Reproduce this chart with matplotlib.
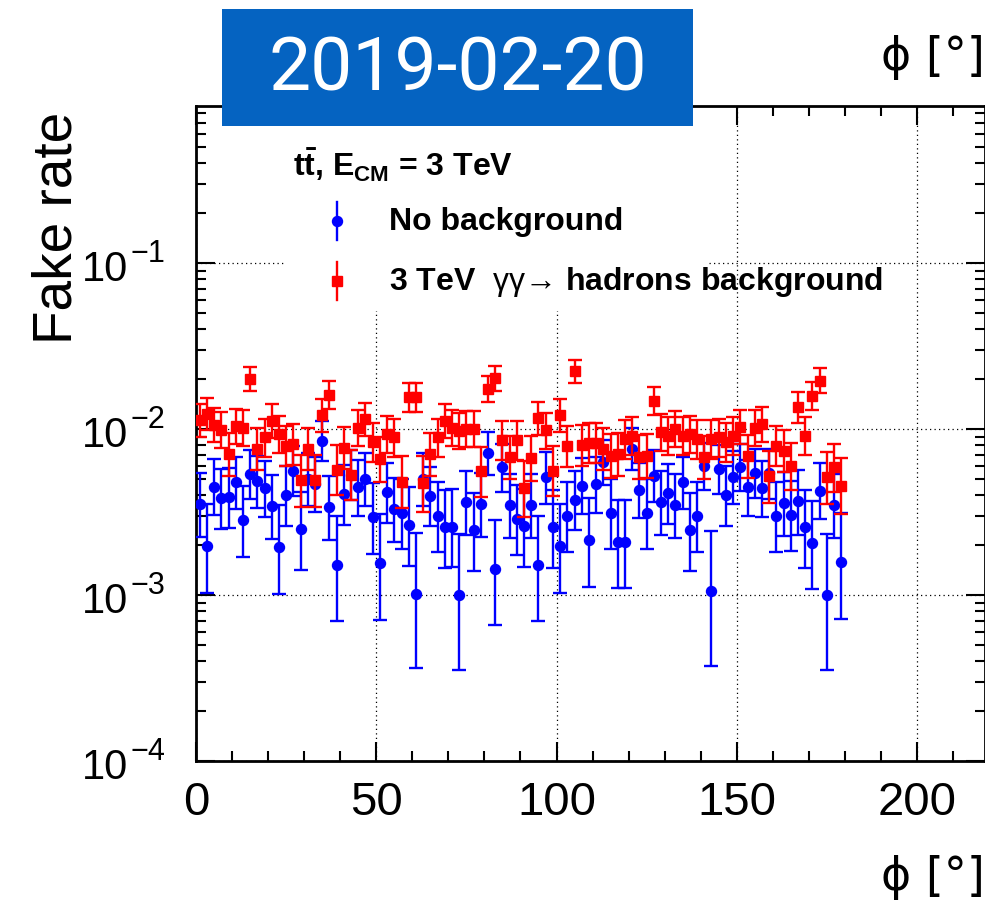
import math
import numpy as np
import matplotlib
matplotlib.use("Agg")
import matplotlib.pyplot as plt
import matplotlib.transforms as mtransforms
from matplotlib.patches import Rectangle
from matplotlib.ticker import MultipleLocator, LogLocator, NullFormatter

# ---------------------------------------------------------------- data
# azimuthal angle bins (2 degree wide), bin centres in degrees
phi_centers = np.arange(1, 180, 2)

# fake rate without beam-induced background (x 1e-3)
rate_no_bkg = np.array([
    3.53, 1.96, 4.50, 3.84, 3.89, 4.77, 2.82, 5.36, 4.84, 4.39,
    3.43, 1.94, 4.00, 5.61, 2.49, 5.00, 4.67, 8.50, 3.40, 1.52,
    4.06, 5.30, 4.45, 5.00, 2.94, 1.55, 4.16, 3.30, 3.12, 2.65,
    1.02, 5.00, 3.97, 3.00, 2.56, 2.58, 1.00, 3.62, 2.47, 3.54,
    7.16, 1.44, 5.87, 3.50, 2.87, 2.60, 3.48, 1.52, 5.12, 2.56,
    1.98, 3.00, 3.75, 4.56, 2.13, 4.66, 6.30, 3.12, 2.10, 2.10,
    7.58, 4.30, 3.12, 5.24, 3.62, 4.10, 3.50, 4.77, 2.47, 3.00,
    6.00, 1.05, 5.74, 4.00, 5.16, 5.92, 4.46, 5.43, 4.40, 5.40,
    3.00, 3.60, 3.04, 3.66, 2.56, 2.07, 4.26, 1.00, 3.50, 1.58,
]) * 1e-3

# fake rate with 3 TeV gamma-gamma -> hadrons overlay (x 1e-2)
rate_with_bkg = np.array([
    1.13, 1.23, 1.06, 0.99, 0.706, 1.04, 1.02, 2.00, 0.758, 0.89,
    1.12, 0.933, 0.79, 0.81, 0.49, 0.76, 0.49, 1.21, 1.60, 0.569,
    0.77, 0.53, 1.02, 1.15, 0.83, 0.66, 0.93, 0.89, 0.482, 1.55,
    1.55, 0.473, 0.706, 0.89, 1.12, 1.02, 0.977, 1.00, 1.00, 0.556,
    1.74, 2.02, 0.86, 0.676, 0.86, 0.44, 0.665, 1.16, 0.98, 0.56,
    1.21, 0.787, 2.23, 0.80, 0.824, 0.824, 0.758, 0.69, 0.706, 0.87,
    0.91, 0.68, 0.69, 1.48, 0.955, 0.91, 1.00, 0.91, 0.93, 0.87,
    0.676, 0.87, 0.89, 0.83, 0.91, 1.03, 0.684, 1.02, 1.07, 0.52,
    0.79, 0.74, 0.60, 1.35, 0.91, 1.59, 1.95, 0.512, 0.587, 0.456,
]) * 1e-2

# reconstructed tracks per phi bin (denominator of the fake rate)
N_TRACKS = 2000

x_ticks = [0, 50, 100, 150, 200]
y_decades = [-4, -3, -2, -1]
y_label = "Fake rate"
x_label = "\u03d5 [\u00b0]"
header = r"$\mathbf{t\bar{t}}$, $\mathbf{E_{CM}}$ = 3 TeV"
label_no_bkg = "No background"
label_with_bkg = "3 TeV  $\\mathrm{\\gamma\\gamma}$\u2192 hadrons background"
date_tag = "2019-02-20"


# ------------------------------------------------ uncertainty helpers
def poisson_cdf(n, mu):
    if n < 0:
        return 0.0
    term = math.exp(-mu)
    total = term
    for i in range(1, n + 1):
        term *= mu / i
        total += term
    return total


def poisson_band(k, cl=0.682689):
    """Central Poisson confidence interval for k observed counts."""
    alpha = 0.5 * (1.0 - cl)

    def solve(f, target, lo, hi):
        for _ in range(80):
            mid = 0.5 * (lo + hi)
            if f(mid) > target:
                lo = mid
            else:
                hi = mid
        return 0.5 * (lo + hi)

    top = k + 10.0 * math.sqrt(k + 1) + 10.0
    lower = 0.0 if k == 0 else solve(lambda m: poisson_cdf(k - 1, m), 1 - alpha, 0.0, top)
    upper = solve(lambda m: poisson_cdf(k, m), alpha, 0.0, top)
    return lower, upper


def rate_errors(rates, n_tracks):
    lo, hi = [], []
    for r in rates:
        k = max(1, int(round(r * n_tracks)))
        l, u = poisson_band(k)
        lo.append(r - r * l / k)
        hi.append(r * u / k - r)
    return np.array([lo, hi])


# ---------------------------------------------------------------- style
plt.rcParams["font.family"] = ["Liberation Sans", "DejaVu Sans"]
plt.rcParams["mathtext.fontset"] = "custom"
plt.rcParams["mathtext.rm"] = "Liberation Sans"
plt.rcParams["mathtext.it"] = "Liberation Sans:italic"
plt.rcParams["mathtext.bf"] = "Liberation Sans:bold"
plt.rcParams["mathtext.sf"] = "Liberation Sans"

W, H = 985, 903
fig = plt.figure(figsize=(W / 100, H / 100), dpi=100)
fig.patch.set_facecolor("white")

X0, X1, Y0, Y1 = 196.1, 984.5, 762.0, 107.0   # frame in pixels
ax = fig.add_axes([X0 / W, 1 - Y0 / H, (X1 - X0) / W, (Y0 - Y1) / H])


def fpos(x, y):
    return x / W, 1 - y / H


def apos(x, y):
    return (x - X0) / (X1 - X0), (Y0 - y) / (Y0 - Y1)


ax.set_yscale("log")
ax.set_xlim(0, (X1 - X0) / 3.604)
ax.set_ylim(1e-4, 10 ** (-1 + (264 - Y1) / 166.0))

ax.xaxis.set_major_locator(MultipleLocator(50))
ax.xaxis.set_minor_locator(MultipleLocator(10))
ax.yaxis.set_major_locator(LogLocator(base=10, numticks=10))
ax.yaxis.set_minor_locator(LogLocator(base=10, subs=np.arange(2, 10), numticks=20))
ax.yaxis.set_major_formatter(NullFormatter())
ax.yaxis.set_minor_formatter(NullFormatter())
ax.set_xticks(x_ticks)

ax.tick_params(which="both", direction="in", top=True, right=True,
               width=1.5, colors="black")
ax.tick_params(which="major", length=14)
ax.tick_params(which="minor", length=7)
ax.tick_params(axis="x", which="major", labelsize=34, pad=14)
for s in ax.spines.values():
    s.set_linewidth(2.0)

# decade labels: mantissa "10" with a large exponent, ROOT style
lab_tr = mtransforms.blended_transform_factory(fig.transFigure, ax.transData)
base_tr = mtransforms.offset_copy(lab_tr, fig=fig, y=-6, units="dots")
exp_tr = mtransforms.offset_copy(lab_tr, fig=fig, y=10, units="dots")
for e in y_decades:
    ax.text(128 / W, 10.0 ** e, "10", transform=base_tr, fontsize=30,
            ha="right", va="center", clip_on=False)
    ax.text(131 / W, 10.0 ** e, "\u2212%d" % abs(e), transform=exp_tr,
            fontsize=22, ha="left", va="center", clip_on=False)

ax.grid(True, which="major", color="black", linestyle=(0, (1.0, 2.6)),
        linewidth=0.9)
ax.set_axisbelow(True)

# ---------------------------------------------------------------- marks
err_kw = dict(linestyle="none", elinewidth=1.7, capsize=4.8, capthick=1.7,
              markersize=7.2)
ax.errorbar(phi_centers, rate_no_bkg,
            yerr=rate_errors(rate_no_bkg, N_TRACKS),
            fmt="o", color="#0000ff", ecolor="#0000ff", zorder=3, **err_kw)
ax.errorbar(phi_centers, rate_with_bkg,
            yerr=rate_errors(rate_with_bkg, N_TRACKS),
            fmt="s", color="#ff0000", ecolor="#ff0000", zorder=4, **err_kw)

# ---------------------------------------------------------------- legend
lx0, ly0 = apos(284, 312)
lx1, ly1 = apos(709, 108)
ax.add_patch(Rectangle((lx0, ly0), lx1 - lx0, ly1 - ly0, transform=ax.transAxes,
                       facecolor="white", edgecolor="none", zorder=2.5))

ax.text(*apos(293, 165), header, transform=ax.transAxes, fontsize=23,
        fontweight="bold", ha="left", va="center", zorder=6)

for ypix, color, marker, text in [(222, "#0000ff", "o", label_no_bkg),
                                  (282, "#ff0000", "s", label_with_bkg)]:
    mx, my = apos(337, ypix)
    _, ytop = apos(337, ypix - 19)
    _, ybot = apos(337, ypix + 19)
    ax.plot([mx, mx], [ybot, ytop], color=color, lw=1.7,
            transform=ax.transAxes, zorder=6)
    ax.plot([mx], [my], marker=marker, color=color, markersize=7.2,
            transform=ax.transAxes, zorder=6)
    ax.text(*apos(389, ypix), text, transform=ax.transAxes, fontsize=23,
            fontweight="bold", ha="left", va="center", zorder=6)

# ---------------------------------------------------------------- titles
fig.text(*fpos(58, 112), y_label, rotation=90, fontsize=39.5,
         ha="center", va="top")
fig.text(*fpos(985, 57), x_label, fontsize=33, ha="right", va="center",
         family=["DejaVu Sans"])
fig.text(*fpos(985, 878), x_label, fontsize=33, ha="right", va="center",
         family=["DejaVu Sans"])

# date banner
bx, by = fpos(222, 127)
fig.add_artist(Rectangle((bx, by), 471 / W, 117 / H, transform=fig.transFigure,
                         facecolor="#0563c1", edgecolor="none", zorder=10))
fig.text(*fpos(458, 70), date_tag, color="white", fontsize=54,
         family=["Roboto", "Open Sans", "DejaVu Sans"], fontweight="normal",
         ha="center", va="center", zorder=11)

fig.savefig("out.png", dpi=100)
